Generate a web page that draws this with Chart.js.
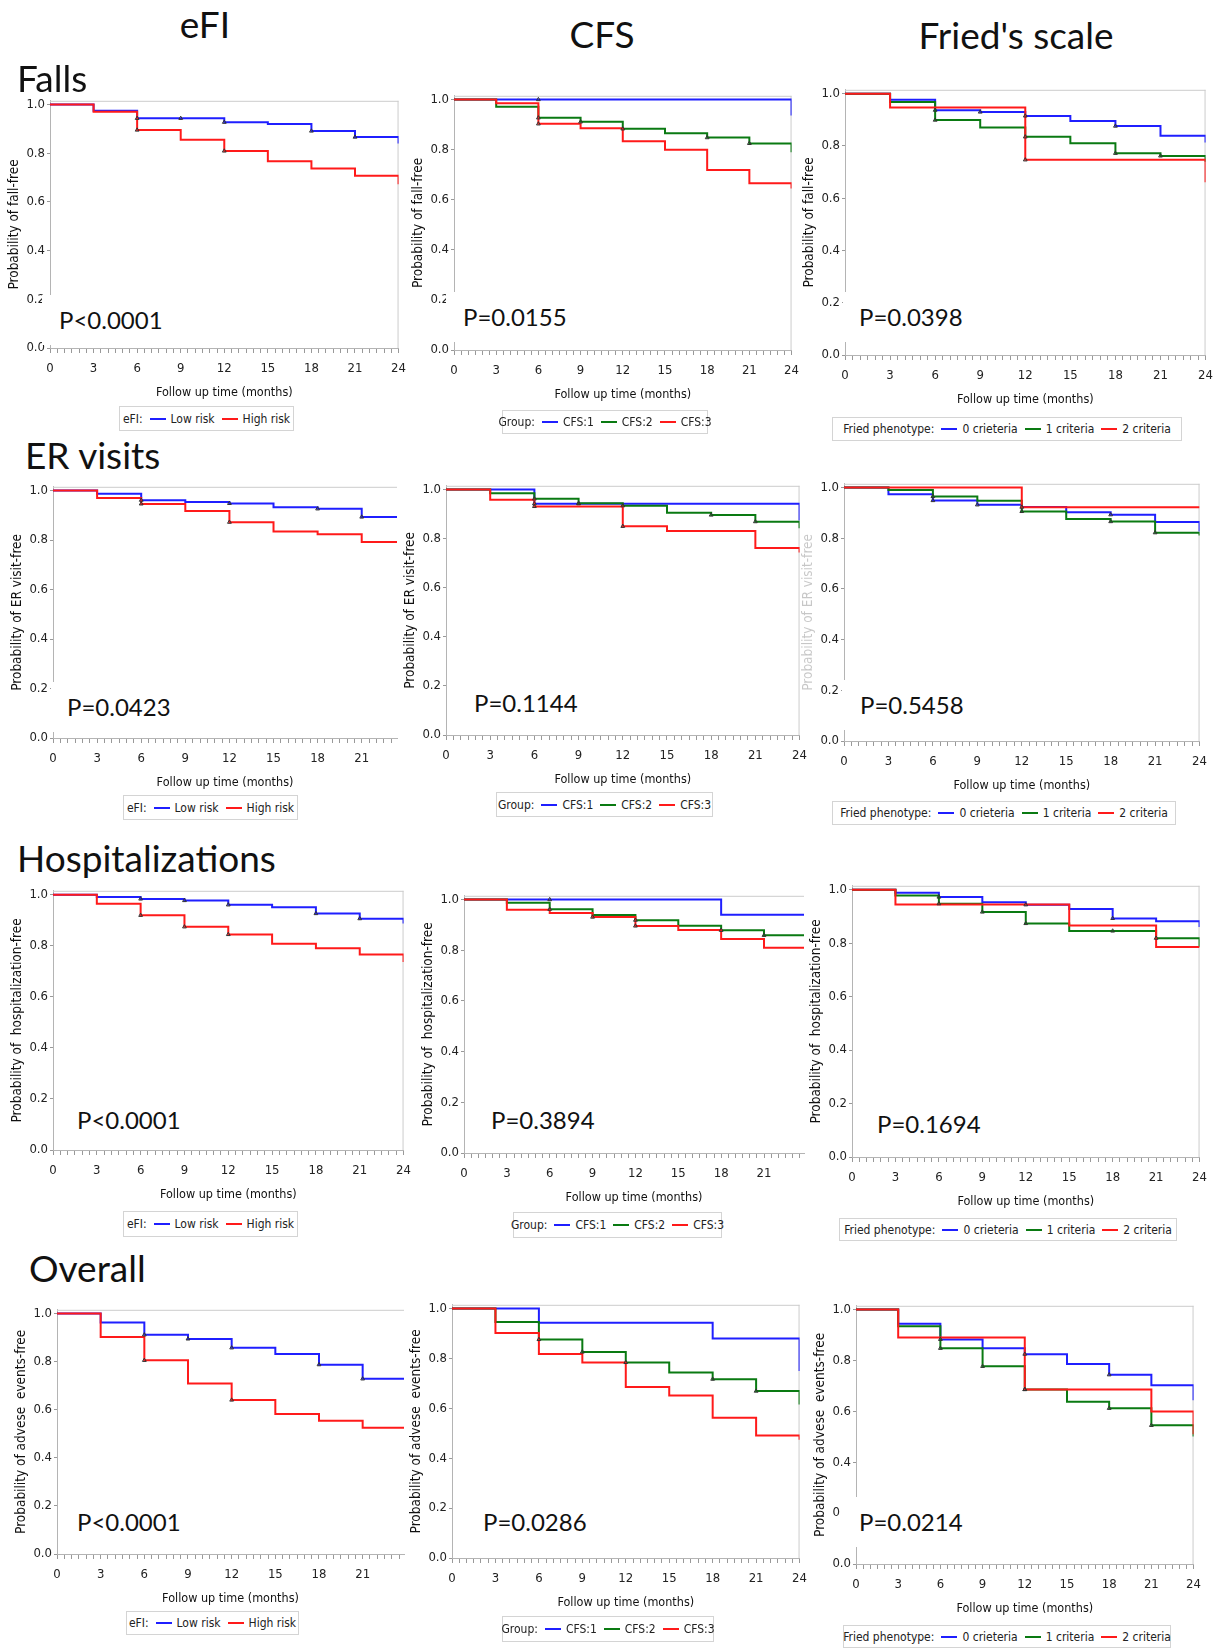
<!DOCTYPE html>
<html>
<head>
<meta charset="utf-8">
<script src="https://cdn.jsdelivr.net/npm/chart.js@4.4.1/dist/chart.umd.min.js"></script>
<style>
  body { margin: 0; background: #fff; }
  #page { position: relative; width: 1221px; height: 1650px; overflow: hidden; background: #fff; }
  canvas { position: absolute; }
  .hdr { position: absolute; font-family: Lato, 'Open Sans', sans-serif; font-size: 37px; line-height: 1; color: #111; white-space: nowrap; }
  .pv { position: absolute; height: 50px; display: flex; align-items: center; background: #fff; box-sizing: border-box;
        font-family: Lato, 'Open Sans', sans-serif; font-size: 24px; line-height: 1; color: #111; white-space: nowrap; }
  .leg { position: absolute; border: 1px solid #d4d4d4; display: flex; align-items: center; justify-content: center; box-sizing: border-box;
         font-family: 'DejaVu Sans Condensed', sans-serif; font-size: 12px; color: #222; white-space: nowrap; background: #fff; }
  .leg span { flex-shrink: 0; }
  .sw { display: inline-block; flex-shrink: 0; width: 16px; height: 2px; margin: 0 5px 0 7px; }
</style>
</head>
<body>
<div id="page"></div>
<script>
// follow-up months and axis ticks
const months = [0, 3, 6, 9, 12, 15, 18, 21, 24];
const yTicks = [0, 0.2, 0.4, 0.6, 0.8, 1.0];

// survival estimate per 3-month interval (0-3, 3-6, ... 21-24), last value = after the drop at 24
const fallsEfiLow  = [1.0, 0.974, 0.943, 0.943, 0.927, 0.920, 0.891, 0.866, 0.840];
const fallsEfiHigh = [1.0, 0.970, 0.895, 0.855, 0.809, 0.767, 0.737, 0.707, 0.672];
const fallsCfs1    = [1.0, 1.0, 1.0, 1.0, 1.0, 1.0, 1.0, 1.0, 0.936];
const fallsCfs2    = [1.0, 0.971, 0.927, 0.911, 0.883, 0.865, 0.848, 0.825, 0.790];
const fallsCfs3    = [1.0, 0.985, 0.903, 0.885, 0.834, 0.800, 0.719, 0.666, 0.645];
const fallsFried0  = [1.0, 0.977, 0.937, 0.930, 0.915, 0.896, 0.876, 0.839, 0.813];
const fallsFried1  = [1.0, 0.968, 0.899, 0.871, 0.835, 0.810, 0.772, 0.762, 0.740];
const fallsFried2  = [1.0, 0.947, 0.947, 0.947, 0.747, 0.747, 0.747, 0.747, 0.661];

const erEfiLow  = [1.0, 0.987, 0.961, 0.954, 0.948, 0.932, 0.926, 0.893, 0.893];
const erEfiHigh = [1.0, 0.970, 0.946, 0.917, 0.872, 0.834, 0.823, 0.792, 0.792];
const erCfs1    = [1.0, 1.0, 0.942, 0.942, 0.942, 0.942, 0.942, 0.942, 0.874];
const erCfs2    = [1.0, 0.985, 0.962, 0.944, 0.934, 0.905, 0.896, 0.869, 0.842];
const erCfs3    = [1.0, 0.958, 0.931, 0.931, 0.850, 0.831, 0.831, 0.762, 0.743];
const erFried0  = [1.0, 0.974, 0.949, 0.932, 0.923, 0.903, 0.893, 0.864, 0.827];
const erFried1  = [1.0, 0.991, 0.965, 0.948, 0.906, 0.876, 0.866, 0.822, 0.811];
const erFried2  = [1.0, 1.0, 1.0, 1.0, 0.922, 0.922, 0.922, 0.922, 0.922];

const hospEfiLow  = [1.0, 0.991, 0.983, 0.977, 0.960, 0.951, 0.926, 0.906, 0.887];
const hospEfiHigh = [1.0, 0.964, 0.919, 0.874, 0.844, 0.808, 0.790, 0.766, 0.736];
const hospCfs1    = [1.0, 1.0, 1.0, 1.0, 1.0, 1.0, 0.940, 0.940, 0.940];
const hospCfs2    = [1.0, 0.988, 0.962, 0.939, 0.919, 0.897, 0.879, 0.859, 0.859];
const hospCfs3    = [1.0, 0.960, 0.947, 0.931, 0.896, 0.880, 0.845, 0.810, 0.810];
const hospFried0  = [1.0, 0.989, 0.973, 0.953, 0.944, 0.928, 0.893, 0.882, 0.861];
const hospFried1  = [1.0, 0.979, 0.948, 0.917, 0.874, 0.846, 0.846, 0.819, 0.787];
const hospFried2  = [1.0, 0.945, 0.945, 0.945, 0.945, 0.866, 0.866, 0.786, 0.786];

const allEfiLow  = [1.0, 0.962, 0.911, 0.894, 0.857, 0.831, 0.787, 0.728, 0.728];
const allEfiHigh = [1.0, 0.902, 0.805, 0.709, 0.640, 0.582, 0.554, 0.525, 0.525];
const allCfs1    = [1.0, 1.0, 0.943, 0.943, 0.943, 0.943, 0.880, 0.880, 0.750];
const allCfs2    = [1.0, 0.946, 0.876, 0.826, 0.784, 0.744, 0.717, 0.669, 0.615];
const allCfs3    = [1.0, 0.902, 0.818, 0.784, 0.685, 0.651, 0.562, 0.491, 0.474];
const allFried0  = [1.0, 0.944, 0.883, 0.848, 0.825, 0.786, 0.744, 0.703, 0.644];
const allFried1  = [1.0, 0.935, 0.848, 0.777, 0.686, 0.638, 0.612, 0.545, 0.501];
const allFried2  = [1.0, 0.890, 0.890, 0.890, 0.686, 0.686, 0.686, 0.599, 0.510];

// months carrying a censoring mark, one list per curve of a panel
const censFallsEfi   = [[6, 9, 12, 18, 21], [6, 12]];
const censFallsCfs   = [[6], [6, 9, 12, 18, 21], [6]];
const censFallsFried = [[6, 9, 12, 18], [6, 12, 18, 21], [12]];
const censErEfi      = [[6, 12, 18, 21], [6, 12]];
const censErCfs      = [[6, 9], [6, 9, 12, 18, 21], [6, 12]];
const censErFried    = [[6, 9, 12, 18], [6, 12, 18, 21], []];
const censHospEfi    = [[6, 9, 12, 18, 21], [6, 9, 12]];
const censHospCfs    = [[6], [6, 12, 18, 21], [9, 12]];
const censHospFried  = [[6, 12, 18], [6, 9, 12, 18, 21], []];
const censAllEfi     = [[6, 9, 12, 18, 21], [6, 12]];
const censAllCfs     = [[], [6, 9, 12, 18, 21], []];
const censAllFried   = [[6, 12, 18], [6, 9, 12, 18, 21], [12]];

const efiGroups   = ['Low risk', 'High risk'];
const cfsGroups   = ['CFS:1', 'CFS:2', 'CFS:3'];
const friedGroups = ['0 crieteria', '1 criteria', '2 criteria'];

const pValues = ['P<0.0001', 'P=0.0155', 'P=0.0398', 'P=0.0423', 'P=0.1144', 'P=0.5458',
                 'P<0.0001', 'P=0.3894', 'P=0.1694', 'P<0.0001', 'P=0.0286', 'P=0.0214'];

const BLUE = '#1f1fff', GREEN = '#0a7a12', RED = '#ff1a1a';
const axisFont = "'DejaVu Sans Condensed', sans-serif";

const yFall = 'Probability of fall-free';
const yEr = 'Probability of ER visit-free';
const yHosp = 'Probability of  hospitalization-free';
const yAll = 'Probability of advese  events-free';

// layout of each panel (plot area in page pixels)
const panels = [
  { s: [fallsEfiLow, fallsEfiHigh], c: censFallsEfi, g: efiGroups, key: 'eFI:', yt: yFall, L: 50, R: 402, T: 103, B: 348, xMax: 24, px: 59, py: 321, bx: 42, leg: [119, 406, 175, 25] },
  { s: [fallsCfs1, fallsCfs2, fallsCfs3], c: censFallsCfs, g: cfsGroups, key: 'Group:', yt: yFall, L: 454, R: 795, T: 98, B: 350, xMax: 24, px: 463, py: 318, bx: 446, leg: [502, 410, 206, 24] },
  { s: [fallsFried0, fallsFried1, fallsFried2], c: censFallsFried, g: friedGroups, key: 'Fried phenotype:', yt: yFall, L: 845, R: 1209, T: 92, B: 355, xMax: 24, px: 859, py: 318, bx: 843, leg: [832, 417, 350, 24] },
  { s: [erEfiLow, erEfiHigh], c: censErEfi, g: efiGroups, key: 'eFI:', yt: yEr, L: 53, R: 397, T: 489, B: 738, xMax: 23.4, noRight: true, px: 67, py: 708, bx: 51, leg: [123, 795, 175, 25] },
  { s: [erCfs1, erCfs2, erCfs3], c: censErCfs, g: cfsGroups, key: 'Group:', yt: yEr, L: 446, R: 803, T: 488, B: 735, xMax: 24, px: 474, py: 704, leg: [496, 792, 217, 25] },
  { s: [erFried0, erFried1, erFried2], c: censErFried, g: friedGroups, key: 'Fried phenotype:', yt: yEr, faint: true, L: 844, R: 1203, T: 486, B: 741, xMax: 24, px: 860, py: 706, bx: 842, leg: [832, 801, 344, 24] },
  { s: [hospEfiLow, hospEfiHigh], c: censHospEfi, g: efiGroups, key: 'eFI:', yt: yHosp, L: 53, R: 407, T: 893, B: 1150, xMax: 24, px: 77, py: 1121, leg: [123, 1211, 175, 26] },
  { s: [hospCfs1, hospCfs2, hospCfs3], c: censHospCfs, g: cfsGroups, key: 'Group:', yt: yHosp, L: 464, R: 804, T: 898, B: 1153, xMax: 23.8, noRight: true, px: 491, py: 1121, leg: [513, 1212, 209, 26] },
  { s: [hospFried0, hospFried1, hospFried2], c: censHospFried, g: friedGroups, key: 'Fried phenotype:', yt: yHosp, L: 852, R: 1203, T: 888, B: 1157, xMax: 24, px: 877, py: 1125, leg: [839, 1218, 338, 23] },
  { s: [allEfiLow, allEfiHigh], c: censAllEfi, g: efiGroups, key: 'eFI:', yt: yAll, L: 57, R: 404, T: 1312, B: 1554, xMax: 23.84, noRight: true, px: 77, py: 1523, leg: [126, 1611, 173, 24] },
  { s: [allCfs1, allCfs2, allCfs3], c: censAllCfs, g: cfsGroups, key: 'Group:', yt: yAll, L: 452, R: 803, T: 1307, B: 1558, xMax: 24, px: 483, py: 1523, leg: [502, 1616, 212, 26] },
  { s: [allFried0, allFried1, allFried2], c: censAllFried, g: friedGroups, key: 'Fried phenotype:', yt: yAll, L: 856, R: 1197, T: 1308, B: 1564, xMax: 24, px: 859, py: 1523, bx: 841, leg: [843, 1625, 328, 23] }
];

const headers = [
  { text: 'eFI', cx: 205, cy: 24 },
  { text: 'CFS', cx: 602, cy: 34 },
  { text: "Fried's scale", cx: 1016, cy: 35 }
];
const rowLabels = [
  { text: 'Falls', x: 17, cy: 78 },
  { text: 'ER visits', x: 25, cy: 455 },
  { text: 'Hospitalizations', x: 17, cy: 858 },
  { text: 'Overall', x: 29, cy: 1268 }
];

const page = document.getElementById('page');

// step points for a Kaplan-Meier curve
function kmPoints(vals) {
  const pts = months.slice(0, 8).map((m, i) => ({ x: m, y: vals[i] }));
  pts.push({ x: 24, y: vals[7] });
  pts.push({ x: 24, y: vals[8] });
  return pts;
}

// light frame along top and right of the plot area
const framePlugin = {
  id: 'frame',
  beforeDatasetsDraw(chart, args, opts) {
    const a = chart.chartArea;
    const c = chart.ctx;
    c.save();
    c.strokeStyle = '#cccccc';
    c.lineWidth = 1;
    c.beginPath();
    c.moveTo(a.left, a.top + 0.5);
    c.lineTo(a.right, a.top + 0.5);
    if (!opts.noRight) {
      c.moveTo(a.right - 0.5, a.top);
      c.lineTo(a.right - 0.5, a.bottom);
    }
    c.stroke();
    c.restore();
  }
};

const Y_MAX = 1.015;
const AXIS_W = 44, AXIS_H = 58, PAD_T = 8, PAD_R = 12;

panels.forEach((p, idx) => {
  const frameTop = p.T - (Y_MAX - 1) * (p.B - p.T);
  const x0 = p.L - AXIS_W;
  const y0 = Math.round(frameTop - PAD_T);
  const cv = document.createElement('canvas');
  cv.width = p.R + PAD_R - x0;
  cv.height = p.B + AXIS_H - y0;
  cv.style.left = x0 + 'px';
  cv.style.top = y0 + 'px';
  page.appendChild(cv);

  const colors = p.s.length === 2 ? [BLUE, RED] : [BLUE, GREEN, RED];
  const datasets = p.s.map((vals, i) => ({
    type: 'line',
    label: p.g[i],
    data: kmPoints(vals),
    borderColor: colors[i],
    backgroundColor: colors[i],
    stepped: true,
    order: p.s.length - i
  }));
  // censoring marks sit on the curve, right after the step at that month
  p.c.forEach((times, i) => {
    datasets.push({
      type: 'scatter',
      label: p.g[i] + ' censored',
      data: times.map(t => ({ x: t, y: p.s[i][t / 3] })),
      pointStyle: 'triangle',
      pointRadius: 2.2,
      pointBorderWidth: 1,
      pointBorderColor: '#333',
      pointBackgroundColor: 'rgba(0,0,0,0)',
      order: -1
    });
  });

  new Chart(cv, {
    type: 'line',
    data: { datasets },
    options: {
      responsive: false,
      animation: false,
      devicePixelRatio: 1,
      layout: { padding: { left: 0, top: frameTop - y0, right: PAD_R, bottom: 0 } },
      plugins: { legend: { display: false }, tooltip: { enabled: false }, frame: { noRight: !!p.noRight } },
      elements: { point: { radius: 0 }, line: { borderWidth: 2, tension: 0 } },
      scales: {
        x: {
          type: 'linear', min: 0, max: p.xMax,
          afterBuildTicks: s => {
            s.ticks = [];
            for (let v = 0; v <= p.xMax + 1e-9; v += 0.5) s.ticks.push({ value: v });
          },
          afterFit: s => { s.height = AXIS_H; },
          ticks: { autoSkip: false, maxRotation: 0, padding: 8, color: '#222', font: { family: axisFont, size: 13 },
                   callback: v => months.includes(v) ? String(v) : '' },
          grid: { drawOnChartArea: false, tickLength: 5, tickColor: '#999' },
          border: { color: '#b4b4b4' },
          title: { display: true, text: 'Follow up time (months)', color: '#111', font: { family: axisFont, size: 12.5 }, padding: { top: 0, bottom: 6 } }
        },
        y: {
          type: 'linear', min: 0, max: Y_MAX,
          afterBuildTicks: s => { s.ticks = yTicks.map(v => ({ value: v })); },
          afterFit: s => { s.width = AXIS_W; },
          ticks: { padding: 2, color: '#222', font: { family: axisFont, size: 13 }, callback: v => v.toFixed(1) },
          grid: { drawOnChartArea: false, tickLength: 3, tickColor: '#999' },
          border: { color: '#b4b4b4' },
          title: { display: true, text: p.yt, color: p.faint ? 'rgba(0,0,0,0.22)' : '#111', font: { family: axisFont, size: 13.5 }, padding: { top: 0, bottom: 0 } }
        }
      }
    },
    plugins: [framePlugin]
  });

  // p-value label, with a white box that breaks the axis where the original does
  const pv = document.createElement('div');
  pv.className = 'pv';
  const bx = p.bx !== undefined ? p.bx : p.px - 4;
  pv.style.left = bx + 'px';
  pv.style.top = (p.py - 26) + 'px';
  pv.style.paddingLeft = (p.px - bx) + 'px';
  pv.style.paddingRight = '4px';
  pv.textContent = pValues[idx];
  page.appendChild(pv);

  // legend
  const lg = document.createElement('div');
  lg.className = 'leg';
  lg.style.left = p.leg[0] + 'px';
  lg.style.top = p.leg[1] + 'px';
  lg.style.width = p.leg[2] + 'px';
  lg.style.height = p.leg[3] + 'px';
  let html = '<span>' + p.key + '</span>';
  p.g.forEach((name, i) => {
    html += '<i class="sw" style="background:' + colors[i] + '"></i><span>' + name + '</span>';
  });
  lg.innerHTML = html;
  page.appendChild(lg);
});

headers.forEach(h => {
  const d = document.createElement('div');
  d.className = 'hdr';
  d.textContent = h.text;
  d.style.left = h.cx + 'px';
  d.style.top = (h.cy - 19.5) + 'px';
  d.style.transform = 'translateX(-50%)';
  page.appendChild(d);
});
rowLabels.forEach(r => {
  const d = document.createElement('div');
  d.className = 'hdr';
  d.textContent = r.text;
  d.style.left = r.x + 'px';
  d.style.top = (r.cy - 19.5) + 'px';
  page.appendChild(d);
});
</script>
</body>
</html>
